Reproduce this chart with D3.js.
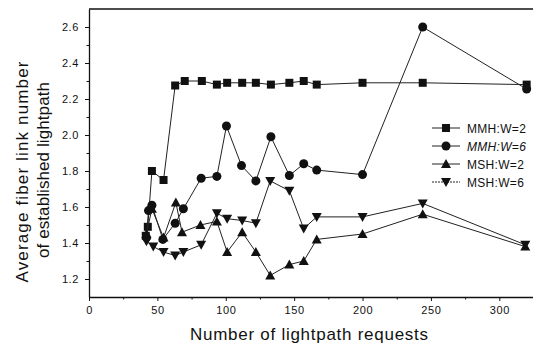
<!DOCTYPE html>
<html>
<head>
<meta charset="utf-8">
<script src="https://cdn.jsdelivr.net/npm/d3@7"></script>
<style>
  body { margin: 0; background: #fff; }
  svg { display: block; font-family: "Liberation Sans", Arial, sans-serif; }
  .axis path, .axis line { stroke: #111; }
  .axis text { fill: #111; font-size: 11px; letter-spacing: 0.6px; }
</style>
</head>
<body>
<svg width="533" height="349"></svg>
<script>
// data
var seriesNames = ['MMH:W=2', 'MMH:W=6', 'MSH:W=2', 'MSH:W=6'];
var markerTypes = ['square', 'circle', 'triangleUp', 'triangleDown'];

var mmhW2 = [[41.5,1.44],[43,1.49],[46,1.80],[54.5,1.75],[63,2.275],[70,2.30],[82.5,2.30],[93.5,2.28],
             [101,2.29],[112,2.29],[122,2.29],[133,2.28],[146.5,2.29],[157,2.30],[166.5,2.28],
             [200,2.29],[244,2.29],[320,2.28]];
var mmhW6 = [[42,1.43],[43.5,1.58],[46,1.61],[54,1.42],[63,1.51],[69,1.59],[82,1.76],[93.5,1.77],
             [100.5,2.05],[111.5,1.83],[122,1.745],[133,1.99],[146.5,1.775],[157,1.84],[166.5,1.805],
             [200,1.78],[244,2.60],[320,2.255]];
var mshW2 = [[42,1.45],[46,1.59],[54.5,1.43],[63.5,1.625],[68,1.46],[81.5,1.50],[93.5,1.52],
             [101,1.35],[112,1.46],[122,1.35],[132.5,1.22],[146.5,1.28],[157,1.30],[166.5,1.42],
             [200,1.45],[244,1.56],[319,1.38]];
var mshW6 = [[42,1.41],[47,1.38],[54.5,1.35],[63,1.33],[69,1.35],[82,1.39],[93.5,1.565],
             [101,1.535],[112,1.525],[122,1.51],[132.5,1.745],[146.5,1.69],[157,1.48],[166.5,1.545],
             [200,1.545],[244,1.62],[319,1.39]];
var seriesData = [mmhW2, mmhW6, mshW2, mshW6];

var xTicks = [0, 50, 100, 150, 200, 250, 300];
var yTicks = [1.2, 1.4, 1.6, 1.8, 2.0, 2.2, 2.4, 2.6];
var xLabel = 'Number of lightpath requests';
var yLabel1 = 'Average fiber link number';
var yLabel2 = 'of established lightpath';

var svg = d3.select('svg');
var plotLeft = 89, plotRight = 533.5, plotTop = 9, plotBottom = 297;

var xScale = d3.scaleLinear().domain([0, 325]).range([plotLeft, plotRight]);
var yScale = d3.scaleLinear().domain([1.1, 2.7]).range([plotBottom, plotTop]);

// minor ticks
var xMinor = d3.range(25, 325, 50);
var yMinor = d3.range(1.3, 2.7, 0.2);

svg.append('g').attr('class', 'axis')
    .attr('transform', `translate(0,${plotBottom})`)
    .call(d3.axisBottom(xScale).tickValues(xMinor).tickSize(2.5).tickFormat(''))
    .call(g => g.select('.domain').remove());
svg.append('g').attr('class', 'axis')
    .attr('transform', `translate(${plotLeft},0)`)
    .call(d3.axisLeft(yScale).tickValues(yMinor).tickSize(2.5).tickFormat(''))
    .call(g => g.select('.domain').remove());

svg.append('g').attr('class', 'axis')
    .attr('transform', `translate(0,${plotBottom})`)
    .call(d3.axisBottom(xScale).tickValues(xTicks).tickSize(4).tickSizeOuter(0).tickPadding(5).tickFormat(d => d))
    .call(g => g.select('.domain').attr('stroke-width', 1.3));

svg.append('g').attr('class', 'axis')
    .attr('transform', `translate(${plotLeft},0)`)
    .call(d3.axisLeft(yScale).tickValues(yTicks).tickSize(4).tickSizeOuter(0).tickPadding(6).tickFormat(d3.format('.1f')))
    .call(g => g.select('.domain').attr('stroke-width', 1.3));

// top frame line
svg.append('line')
    .attr('x1', plotLeft).attr('x2', plotRight)
    .attr('y1', plotTop).attr('y2', plotTop)
    .attr('stroke', '#111').attr('stroke-width', 1.3);

// axis labels
svg.append('text')
    .attr('x', 309).attr('y', 340)
    .attr('text-anchor', 'middle')
    .attr('font-size', 17)
    .attr('textLength', 238)
    .attr('fill', '#111')
    .text(xLabel);

var yLab = svg.append('g').attr('transform', 'translate(0,172) rotate(-90)');
yLab.append('text').attr('x', 0).attr('y', 28)
    .attr('text-anchor', 'middle').attr('font-size', 17).attr('fill', '#111')
    .attr('textLength', 221)
    .text(yLabel1);
yLab.append('text').attr('x', 2).attr('y', 49)
    .attr('text-anchor', 'middle').attr('font-size', 17).attr('fill', '#111')
    .attr('textLength', 176)
    .text(yLabel2);

var line = d3.line().x(d => xScale(d[0])).y(d => yScale(d[1]));

function drawMarker(g, type, x, y) {
    if (type === 'square') {
        g.append('rect').attr('x', x - 4).attr('y', y - 4).attr('width', 8).attr('height', 8).attr('fill', '#111');
    } else if (type === 'circle') {
        g.append('circle').attr('cx', x).attr('cy', y).attr('r', 4.5).attr('fill', '#111');
    } else if (type === 'triangleUp') {
        g.append('path').attr('d', `M${x},${y - 5}L${x + 5},${y + 4}L${x - 5},${y + 4}Z`).attr('fill', '#111');
    } else {
        g.append('path').attr('d', `M${x},${y + 5}L${x + 5},${y - 4}L${x - 5},${y - 4}Z`).attr('fill', '#111');
    }
}

seriesData.forEach(function(data, i) {
    svg.append('path')
        .attr('d', line(data))
        .attr('fill', 'none')
        .attr('stroke', '#222')
        .attr('stroke-width', 1);
    var g = svg.append('g');
    data.forEach(function(d) {
        drawMarker(g, markerTypes[i], xScale(d[0]), yScale(d[1]));
    });
});

// legend
var legend = svg.append('g').attr('transform', 'translate(432,128)');
seriesNames.forEach(function(name, i) {
    var row = legend.append('g').attr('transform', `translate(0,${i * 18})`);
    row.append('line').attr('x1', 0).attr('x2', 28).attr('y1', 0).attr('y2', 0)
        .attr('stroke', '#222').attr('stroke-width', 1)
        .attr('stroke-dasharray', i === 3 ? '2,1' : null);
    drawMarker(row, markerTypes[i], 14, 0);
    row.append('text').attr('x', 35).attr('y', 4.5)
        .attr('font-size', 12).attr('fill', '#111')
        .attr('font-style', i === 1 ? 'italic' : 'normal')
        .attr('letter-spacing', 0.3)
        .text(name);
});
</script>
</body>
</html>
